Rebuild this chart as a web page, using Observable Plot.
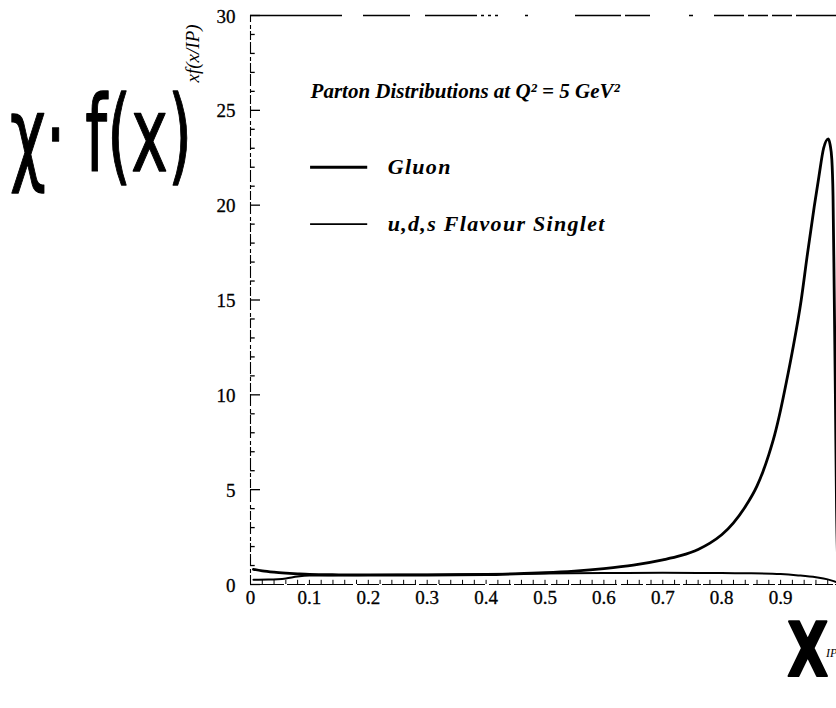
<!DOCTYPE html>
<html>
<head>
<meta charset="utf-8">
<script src="https://cdn.jsdelivr.net/npm/d3@7"></script>
<script src="https://cdn.jsdelivr.net/npm/@observablehq/plot@0.6"></script>
<style>
  html, body { margin: 0; padding: 0; background: #fff; }
  #chart { width: 836px; height: 708px; overflow: hidden; }
</style>
</head>
<body>
<div id="chart"></div>
<script>
// ---- data ----
const gluonX = [0.005, 0.02, 0.04, 0.06, 0.08, 0.1, 0.15, 0.2, 0.3, 0.4, 0.45, 0.5, 0.55, 0.6, 0.65, 0.7, 0.73, 0.76, 0.78, 0.8, 0.82, 0.84, 0.86, 0.87, 0.88, 0.89, 0.9, 0.91, 0.92, 0.935, 0.945, 0.957, 0.965, 0.973, 0.981, 0.984, 0.987, 0.989, 0.991, 0.993, 0.995, 0.998, 1.0];
const gluonY = [0.80, 0.72, 0.65, 0.60, 0.56, 0.53, 0.51, 0.50, 0.50, 0.52, 0.56, 0.62, 0.71, 0.84, 1.02, 1.30, 1.52, 1.85, 2.18, 2.62, 3.25, 4.10, 5.20, 5.95, 6.85, 7.90, 9.20, 10.7, 12.3, 15.0, 17.3, 19.9, 21.5, 23.0, 23.5, 23.2, 22.4, 20.5, 15.5, 10.0, 4.0, 0.5, 0.0];

const singletX = [0.005, 0.03, 0.06, 0.08, 0.1, 0.2, 0.3, 0.4, 0.5, 0.6, 0.7, 0.8, 0.85, 0.9, 0.93, 0.96, 0.98, 0.99, 1.0];
const singletY = [0.25, 0.26, 0.32, 0.42, 0.47, 0.50, 0.52, 0.55, 0.58, 0.60, 0.62, 0.60, 0.59, 0.55, 0.48, 0.38, 0.27, 0.18, 0.05];

const seriesNames = ["Gluon", "u,d,s Flavour Singlet"];
const chartTitle = "Parton Distributions at Q² = 5 GeV²";

const xTicks = [0, 0.1, 0.2, 0.3, 0.4, 0.5, 0.6, 0.7, 0.8, 0.9];
const xTickLabels = ["0", "0.1", "0.2", "0.3", "0.4", "0.5", "0.6", "0.7", "0.8", "0.9"];
const yTicks = [0, 5, 10, 15, 20, 25, 30];
const yTickLabels = ["0", "5", "10", "15", "20", "25", "30"];

const yLabelHand = "χ· f(x)";
const yLabelPrint = "xf(x/IP)";
const xLabelHand = "X";
const xLabelSub = "IP";

// ---- build ----
const gluonData = gluonX.map((x, i) => ({x, y: gluonY[i]}));
const singletData = singletX.map((x, i) => ({x, y: singletY[i]}));
const xTickData = xTicks.map((v, i) => ({v, label: xTickLabels[i]}));
const yTickData = yTicks.map((v, i) => ({v, label: yTickLabels[i]}));
const xMinor = d3.range(0, 1.0001, 0.02);
const yMinor = d3.range(0, 30.001, 1);

const serif = "'Liberation Serif', 'Times New Roman', serif";
const hand = "'DejaVu Sans', sans-serif";

const legend = {x1: 0.102, x2: 0.199, xText: 0.233, yTitle: 26, rows: [22, 19], widths: [3, 1.6]};
const handY = {x: -0.4075, y: 21.75, kx: 1, ky: 1.7};
const handX = {x: 0.947, y: -4.85, kx: 0.72, ky: 1.0};

const plot = Plot.plot({
  width: 836,
  height: 708,
  marginLeft: 0, marginRight: 0, marginTop: 0, marginBottom: 0,
  x: {domain: [0, 1], range: [250, 839], axis: null},
  y: {domain: [0, 30], range: [584, 15], axis: null},
  style: {background: "#fff", fontFamily: serif, color: "#000"},
  marks: [
    // frame pieces (scanned look)
    Plot.ruleY([30], {x1: 0, x2: 1, stroke: "#000", strokeWidth: 1.3,
      strokeDasharray: "92,21,47,15,52,4,3,4,3,4,3,27,3,47,46,4,25,39,4,21,30,4,20,4,20,4,40"}),
    Plot.ruleX([0], {y1: 0, y2: 30, stroke: "#000", strokeWidth: 1.1, strokeDasharray: "9,2,4,3,12,2"}),
    Plot.ruleY([0], {x1: 0, x2: 1, stroke: "#000", strokeWidth: 1.2, strokeDasharray: "34,3,18,2,46,4,22,3"}),
    // ticks
    Plot.ruleY(yMinor, {y: d => d, x1: 0, x2: d => (d % 5 === 0 ? 0.017 : 0.008), stroke: "#000", strokeWidth: 1.3}),
    Plot.ruleX(xMinor, {x: d => d, y1: 0, y2: 0.22, stroke: "#000", strokeWidth: 1}),
    // tick labels
    Plot.text(yTickData, {x: 0, y: "v", text: "label", textAnchor: "end", dx: -15, dy: 1,
      fontSize: 19, fontFamily: serif, fill: "#000", stroke: "#000", strokeWidth: 0.3}),
    Plot.text(xTickData, {x: "v", y: 0, text: "label", dy: 13,
      fontSize: 19, fontFamily: serif, fill: "#000", stroke: "#000", strokeWidth: 0.3}),
    // curves
    Plot.line(singletData, {x: "x", y: "y", stroke: "#000", strokeWidth: 2, curve: "monotone-x"}),
    Plot.line(gluonData, {x: "x", y: "y", stroke: "#000", strokeWidth: 2.8, curve: "monotone-x"}),
    // legend
    Plot.text([chartTitle], {x: legend.x1, y: legend.yTitle, text: d => d, textAnchor: "start",
      fontSize: 21, fontFamily: serif, fontWeight: "bold", fontStyle: "italic", fill: "#000"}),
    Plot.ruleY(seriesNames, {y: (d, i) => legend.rows[i], x1: legend.x1, x2: legend.x2,
      stroke: "#000", strokeWidth: (d, i) => legend.widths[i]}),
    Plot.text(seriesNames, {x: legend.xText, y: (d, i) => legend.rows[i], text: d => d, textAnchor: "start",
      fontSize: 22, fontFamily: serif, fontWeight: "bold", fontStyle: "italic", fill: "#000",
      ariaDescription: "legendtext"}),
    // axis titles
    Plot.text([yLabelHand], {x: handY.x, y: handY.y, text: d => d, textAnchor: "start",
      fontSize: 62, fontFamily: hand, fill: "#000", stroke: "#000", strokeWidth: 0.8,
      ariaDescription: "handy"}),
    Plot.text([yLabelPrint], {x: -0.097, y: 28.0, text: d => d, rotate: -90,
      fontSize: 19, fontFamily: serif, fontStyle: "italic", fill: "#000"}),
    Plot.text([xLabelHand], {x: handX.x, y: handX.y, text: d => d,
      fontSize: 74, fontFamily: hand, fontWeight: "bold", fill: "#000", stroke: "#000", strokeWidth: 2,
      ariaDescription: "handx"}),
    Plot.text([xLabelSub], {x: 0.977, y: -3.6, text: d => d, textAnchor: "start",
      fontSize: 12, fontFamily: serif, fontStyle: "italic", fill: "#000"})
  ]
});

// stretch the hand-written labels, positioned through the plot's own scales
const sx = plot.scale("x"), sy = plot.scale("y");
function reshape(desc, spec) {
  const px = sx.apply(spec.x), py = sy.apply(spec.y);
  plot.querySelectorAll(`g[aria-description="${desc}"]`).forEach(g => g.removeAttribute("transform"));
  plot.querySelectorAll(`g[aria-description="${desc}"] text`).forEach(t => {
    t.removeAttribute("x"); t.removeAttribute("y");
    t.setAttribute("transform", `translate(${px},${py}) scale(${spec.kx},${spec.ky})`);
  });
}
reshape("handy", handY);
reshape("handx", handX);
plot.querySelectorAll('g[aria-description="legendtext"] text').forEach(t => t.setAttribute("letter-spacing", "1.3"));

document.getElementById("chart").appendChild(plot);
</script>
</body>
</html>
